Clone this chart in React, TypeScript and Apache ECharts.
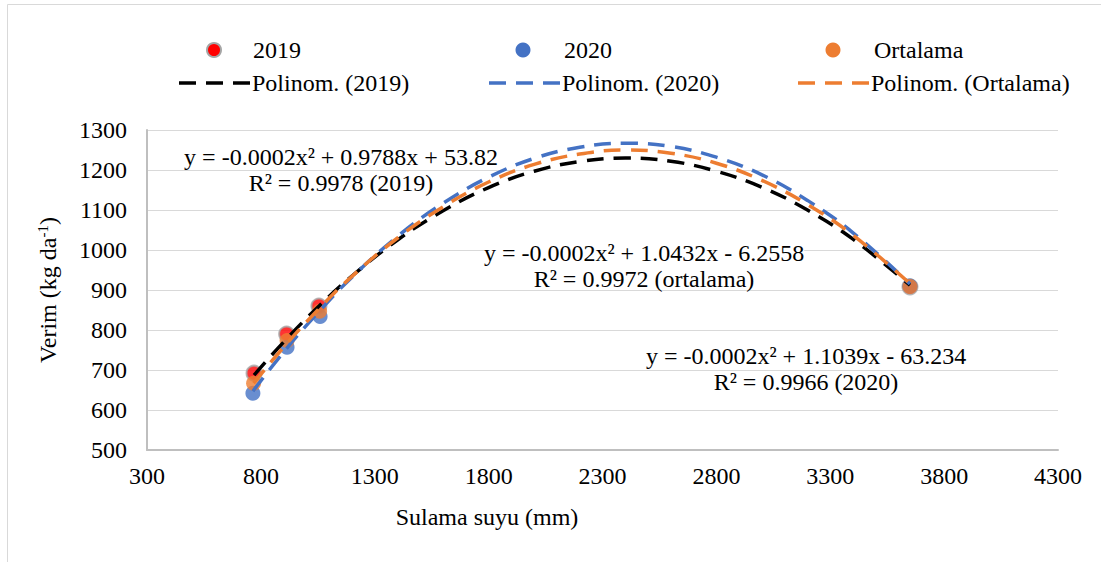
import React, { useEffect, useRef } from "react";
import * as echarts from "echarts";

// Tick labels
const xTickLabels = [300, 800, 1300, 1800, 2300, 2800, 3300, 3800, 4300];
const yTickLabels = [500, 600, 700, 800, 900, 1000, 1100, 1200, 1300];

// Observed points
const water2019 = [770, 913, 1055, 3650];
const yield2019 = [692, 790, 860, 908];
const water2020 = [765, 915, 1060, 3650];
const yield2020 = [642, 757, 834, 910];
const waterAvg = [768, 915, 1058, 3650];
const yieldAvg = [667, 774, 847, 909];

// Trend lines
const trendX2019 = [770, 900, 1050, 1200, 1400, 1600, 1800, 2000, 2200, 2400, 2600, 2800, 3000, 3200, 3400, 3650];
const trendY2019 = [687, 770, 857, 935, 1025, 1098, 1156, 1197, 1221, 1230, 1222, 1197, 1157, 1100, 1027, 912];
const trendX2020 = [765, 900, 1050, 1200, 1400, 1600, 1800, 2000, 2200, 2400, 2600, 2800, 3000, 3200, 3400, 3650];
const trendY2020 = [647, 745, 843, 932, 1034, 1117, 1182, 1229, 1257, 1267, 1259, 1232, 1188, 1124, 1043, 915];
const trendXAvg = [768, 900, 1050, 1200, 1400, 1600, 1800, 2000, 2200, 2400, 2600, 2800, 3000, 3200, 3400, 3650];
const trendYAvg = [667, 757, 850, 934, 1030, 1108, 1170, 1214, 1240, 1250, 1242, 1217, 1174, 1114, 1037, 916];

const equationLines = [
  ["y = -0.0002x² + 0.9788x + 53.82", "R² = 0.9978 (2019)"],
  ["y = -0.0002x² + 1.0432x - 6.2558", "R² = 0.9972 (ortalama)"],
  ["y = -0.0002x² + 1.1039x - 63.234", "R² = 0.9966 (2020)"],
];

const FONT = "Liberation Serif";
const C2019 = "#FF0000";
const C2020 = "#4472C4";
const CAVG = "#ED7D31";
const CBLACK = "#000000";
const DASH = [17, 10];

const pairs = (xs: number[], ys: number[]) => xs.map((x, i) => [x, ys[i]]);

export default function App() {
  const ref = useRef<HTMLDivElement>(null);
  useEffect(() => {
    if (!ref.current) return;
    const chart = echarts.init(ref.current, null, { renderer: "svg" });
    const textStyle = { fontFamily: FONT, fontSize: 24, fill: "#000" };
    const eqPos = [
      [341, 157],
      [644, 253],
      [806, 356],
    ];
    const eqBg = [false, true, false];
    const graphics: any[] = [
      {
        type: "rect",
        shape: { x: 7.5, y: 4.5, width: 1200, height: 700 },
        style: { fill: "none", stroke: "#D9D9D9", lineWidth: 1 },
        silent: true,
      },
      // legend row 1
      { type: "circle", shape: { cx: 214, cy: 50, r: 7 }, style: { fill: C2019, stroke: "#A5A5A5", lineWidth: 2 } },
      { type: "text", x: 253, y: 50, style: { ...textStyle, text: "2019", verticalAlign: "middle" } },
      { type: "circle", shape: { cx: 523, cy: 50, r: 7.5 }, style: { fill: C2020 } },
      { type: "text", x: 564, y: 50, style: { ...textStyle, text: "2020", verticalAlign: "middle" } },
      { type: "circle", shape: { cx: 833, cy: 50, r: 7.5 }, style: { fill: CAVG } },
      { type: "text", x: 874, y: 50, style: { ...textStyle, text: "Ortalama", verticalAlign: "middle" } },
      // legend row 2
      { type: "line", shape: { x1: 179, y1: 83, x2: 251, y2: 83 }, style: { stroke: CBLACK, lineWidth: 3.5, lineDash: DASH } },
      { type: "text", x: 252, y: 83, style: { ...textStyle, text: "Polinom. (2019)", verticalAlign: "middle" } },
      { type: "line", shape: { x1: 489, y1: 83, x2: 561, y2: 83 }, style: { stroke: C2020, lineWidth: 3.5, lineDash: DASH } },
      { type: "text", x: 562, y: 83, style: { ...textStyle, text: "Polinom. (2020)", verticalAlign: "middle" } },
      { type: "line", shape: { x1: 798, y1: 83, x2: 870, y2: 83 }, style: { stroke: CAVG, lineWidth: 3.5, lineDash: DASH } },
      { type: "text", x: 871, y: 83, style: { ...textStyle, text: "Polinom. (Ortalama)", verticalAlign: "middle" } },
      // axis titles
      { type: "text", x: 487, y: 517, style: { ...textStyle, text: "Sulama suyu (mm)", align: "center", verticalAlign: "middle" } },
      {
        type: "text",
        x: 48,
        y: 290,
        rotation: Math.PI / 2,
        style: {
          ...textStyle,
          text: "{a|Verim (kg da}{s|-1}{a|)}",
          align: "center",
          verticalAlign: "middle",
          rich: {
            a: { fontFamily: FONT, fontSize: 24, fill: "#000", lineHeight: 26 },
            s: { fontFamily: FONT, fontSize: 15, fill: "#000", lineHeight: 26, verticalAlign: "top", padding: [0, 0, 10, 0] },
          },
        },
      },
    ];
    equationLines.forEach((lines, i) => {
      graphics.push({
        type: "text",
        x: eqPos[i][0],
        y: eqPos[i][1] - 13,
        z: 10,
        style: {
          ...textStyle,
          text: `{l1|${lines[0]}}\n{l2|${lines[1]}}`,
          align: "center",
          verticalAlign: "top",
          rich: {
            l1: {
              fontFamily: FONT,
              fontSize: 24,
              fill: "#000",
              lineHeight: 26,
              backgroundColor: eqBg[i] ? "#FFFFFF" : "transparent",
            },
            l2: { fontFamily: FONT, fontSize: 24, fill: "#000", lineHeight: 26 },
          },
        },
      });
    });

    const lineSeries = (name: string, xs: number[], ys: number[], color: string) => ({
      name,
      type: "line",
      data: pairs(xs, ys),
      smooth: 0.4,
      showSymbol: false,
      symbol: "none",
      lineStyle: { color, width: 3.5, type: DASH, cap: "butt" },
      z: 5,
    });

    chart.setOption({
      animation: false,
      textStyle: { fontFamily: FONT },
      grid: { left: 147, right: 43, top: 130, bottom: 112, containLabel: false },
      xAxis: {
        type: "value",
        min: 300,
        max: 4300,
        interval: 100,
        axisLine: { show: true, lineStyle: { color: "#BFBFBF", width: 2 } },
        axisTick: { show: false },
        splitLine: { show: false },
        axisLabel: {
          color: "#000",
          fontFamily: FONT,
          fontSize: 24,
          margin: 14,
          formatter: (v: number) => (xTickLabels.includes(v) ? String(v) : ""),
        },
      },
      yAxis: {
        type: "value",
        min: yTickLabels[0],
        max: yTickLabels[yTickLabels.length - 1],
        interval: 100,
        axisLine: { show: true, lineStyle: { color: "#BFBFBF", width: 2 } },
        axisTick: { show: false },
        splitLine: { show: true, lineStyle: { color: "#D9D9D9", width: 1 } },
        axisLabel: {
          color: "#000",
          fontFamily: FONT,
          fontSize: 24,
          margin: 20,
          formatter: (v: number) => String(v),
        },
      },
      graphic: graphics,
      series: [
        {
          name: "2019",
          type: "scatter",
          data: pairs(water2019, yield2019),
          symbolSize: 15,
          itemStyle: { color: C2019, borderColor: "#A5A5A5", borderWidth: 2 },
          z: 2,
        },
        {
          name: "2020",
          type: "scatter",
          data: pairs(water2020, yield2020),
          symbolSize: 15,
          itemStyle: { color: C2020 },
          z: 2,
        },
        {
          name: "Ortalama",
          type: "scatter",
          data: pairs(waterAvg, yieldAvg),
          symbolSize: 15,
          itemStyle: { color: CAVG },
          z: 3,
        },
        lineSeries("Polinom. (2019)", trendX2019, trendY2019, CBLACK),
        lineSeries("Polinom. (2020)", trendX2020, trendY2020, C2020),
        lineSeries("Polinom. (Ortalama)", trendXAvg, trendYAvg, CAVG),
      ],
    });
    return () => chart.dispose();
  }, []);
  return (
    <div
      ref={ref}
      style={{ position: "fixed", left: 0, top: 0, width: 1101, height: 562, background: "#fff" }}
    />
  );
}
